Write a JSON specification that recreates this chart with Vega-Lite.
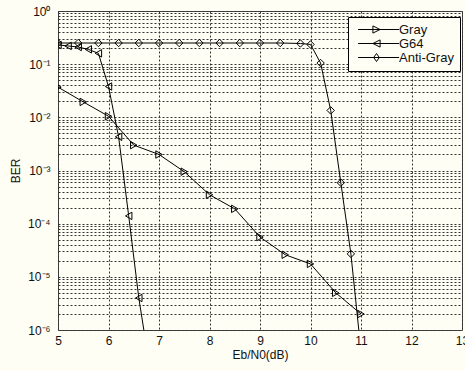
{
  "$schema": "https://vega.github.io/schema/vega-lite/v6.json",
  "width": 404,
  "height": 319,
  "autosize": {"type": "none"},
  "padding": {"left": 58, "top": 11, "right": 3, "bottom": 41},
  "background": "#fefef4",
  "config": {
    "view": {"stroke": "#444", "strokeWidth": 1, "fill": "#fefef4"},
    "font": "Liberation Sans"
  },
  "data": {
    "values": [
      {"series": "Gray", "x": 5.0, "ber": 0.037},
      {"series": "Gray", "x": 5.5, "ber": 0.0195},
      {"series": "Gray", "x": 6.0, "ber": 0.0105},
      {"series": "Gray", "x": 6.5, "ber": 0.003},
      {"series": "Gray", "x": 7.0, "ber": 0.002},
      {"series": "Gray", "x": 7.5, "ber": 0.00095},
      {"series": "Gray", "x": 8.0, "ber": 0.00035},
      {"series": "Gray", "x": 8.5, "ber": 0.00019},
      {"series": "Gray", "x": 9.0, "ber": 0.000056},
      {"series": "Gray", "x": 9.5, "ber": 0.000026},
      {"series": "Gray", "x": 10.0, "ber": 0.0000175},
      {"series": "Gray", "x": 10.5, "ber": 0.000005},
      {"series": "Gray", "x": 11.0, "ber": 0.000002},
      {"series": "G64", "x": 5.0, "ber": 0.23},
      {"series": "G64", "x": 5.2, "ber": 0.22},
      {"series": "G64", "x": 5.4, "ber": 0.21},
      {"series": "G64", "x": 5.6, "ber": 0.19},
      {"series": "G64", "x": 5.8, "ber": 0.16},
      {"series": "G64", "x": 6.0, "ber": 0.038},
      {"series": "G64", "x": 6.2, "ber": 0.0043},
      {"series": "G64", "x": 6.4, "ber": 0.00014},
      {"series": "G64", "x": 6.6, "ber": 0.000004},
      {"series": "G64", "x": 6.8, "ber": 0.00000025},
      {"series": "Anti-Gray", "x": 5.0, "ber": 0.25},
      {"series": "Anti-Gray", "x": 5.4, "ber": 0.25},
      {"series": "Anti-Gray", "x": 5.8, "ber": 0.25},
      {"series": "Anti-Gray", "x": 6.2, "ber": 0.25},
      {"series": "Anti-Gray", "x": 6.6, "ber": 0.25},
      {"series": "Anti-Gray", "x": 7.0, "ber": 0.25},
      {"series": "Anti-Gray", "x": 7.4, "ber": 0.25},
      {"series": "Anti-Gray", "x": 7.8, "ber": 0.25},
      {"series": "Anti-Gray", "x": 8.2, "ber": 0.25},
      {"series": "Anti-Gray", "x": 8.6, "ber": 0.25},
      {"series": "Anti-Gray", "x": 9.0, "ber": 0.25},
      {"series": "Anti-Gray", "x": 9.4, "ber": 0.25},
      {"series": "Anti-Gray", "x": 9.8, "ber": 0.245},
      {"series": "Anti-Gray", "x": 10.0, "ber": 0.235},
      {"series": "Anti-Gray", "x": 10.2, "ber": 0.105},
      {"series": "Anti-Gray", "x": 10.4, "ber": 0.0135},
      {"series": "Anti-Gray", "x": 10.6, "ber": 0.00059},
      {"series": "Anti-Gray", "x": 10.8, "ber": 0.000027},
      {"series": "Anti-Gray", "x": 11.0, "ber": 0.0000004}
    ]
  },
  "encoding": {
    "x": {
      "field": "x",
      "type": "quantitative",
      "scale": {"domain": [5, 13], "nice": false, "zero": false},
      "axis": {
        "values": [5, 6, 7, 8, 9, 10, 11, 12, 13],
        "grid": true,
        "gridDash": [2, 2],
        "gridColor": "#333",
        "gridOpacity": 1,
        "ticks": false,
        "domain": false,
        "labelFlush": false,
        "labelOverlap": false,
        "labelFontSize": 12,
        "labelColor": "#111",
        "labelPadding": 5,
        "title": "Eb/N0(dB)",
        "titleFontSize": 12,
        "titleFontWeight": "normal",
        "titleColor": "#111",
        "titlePadding": 3
      }
    },
    "y": {
      "field": "ber",
      "type": "quantitative",
      "scale": {"type": "log", "domain": [0.000001, 1], "nice": false},
      "axis": {
        "values": [1e-6, 2e-6, 3e-6, 4e-6, 5e-6, 6e-6, 7e-6, 8e-6, 9e-6,
                   1e-5, 2e-5, 3e-5, 4e-5, 5e-5, 6e-5, 7e-5, 8e-5, 9e-5,
                   1e-4, 2e-4, 3e-4, 4e-4, 5e-4, 6e-4, 7e-4, 8e-4, 9e-4,
                   1e-3, 2e-3, 3e-3, 4e-3, 5e-3, 6e-3, 7e-3, 8e-3, 9e-3,
                   1e-2, 2e-2, 3e-2, 4e-2, 5e-2, 6e-2, 7e-2, 8e-2, 9e-2,
                   1e-1, 2e-1, 3e-1, 4e-1, 5e-1, 6e-1, 7e-1, 8e-1, 9e-1, 1],
        "labelExpr": "abs(log(datum.value)/LN10 - round(log(datum.value)/LN10)) < 0.001 ? '10' + ['⁰','⁻¹','⁻²','⁻³','⁻⁴','⁻⁵','⁻⁶'][-round(log(datum.value)/LN10)] : ''",
        "grid": true,
        "gridDash": [2, 2],
        "gridColor": "#333",
        "gridOpacity": 1,
        "ticks": false,
        "domain": false,
        "labelFlush": false,
        "labelOverlap": false,
        "labelFontSize": 12,
        "labelColor": "#111",
        "labelPadding": 8,
        "title": "BER",
        "titleFontSize": 12,
        "titleFontWeight": "normal",
        "titleColor": "#111",
        "titlePadding": 5
      }
    }
  },
  "resolve": {"scale": {"shape": "independent"}, "legend": {"shape": "independent"}},
  "layer": [
    {
      "mark": {"type": "line", "color": "#000", "strokeWidth": 1, "clip": true},
      "encoding": {
        "detail": {"field": "series"},
        "order": {"field": "x", "type": "quantitative"}
      }
    },
    {
      "mark": {"type": "point", "filled": false, "color": "#000", "strokeWidth": 1, "size": 55, "opacity": 1, "clip": true},
      "encoding": {
        "shape": {
          "field": "series",
          "type": "nominal",
          "scale": {"domain": ["Gray", "G64", "Anti-Gray"], "range": ["triangle-right", "triangle-left", "diamond"]},
          "legend": null
        }
      }
    },
    {
      "mark": {"type": "point", "filled": false, "color": "#000", "strokeWidth": 1, "size": 64, "opacity": 0, "clip": true},
      "encoding": {
        "shape": {
          "field": "series",
          "type": "nominal",
          "scale": {
            "domain": ["Gray", "G64", "Anti-Gray"],
            "range": [
              "M-1.1,0H9.15M2.6,-0.9L4.4,0L2.6,0.9Z",
              "M-1.1,0H9.15M4.4,-0.9L2.6,0L4.4,0.9Z",
              "M-1.1,0H9.15M3.5,-1L4.2,0L3.5,1L2.8,0Z"
            ]
          },
          "legend": {
            "title": null,
            "orient": "none",
            "legendX": 290,
            "legendY": 6,
            "padding": 6,
            "symbolOffset": 2,
            "strokeColor": "#000",
            "fillColor": "#fefef4",
            "labelFontSize": 13,
            "labelColor": "#111",
            "labelOffset": 30,
            "rowPadding": -1,
            "symbolSize": 64,
            "symbolOpacity": 1,
            "symbolStrokeColor": "#000",
            "symbolStrokeWidth": 1,
            "symbolFillColor": "transparent"
          }
        }
      }
    }
  ]
}
